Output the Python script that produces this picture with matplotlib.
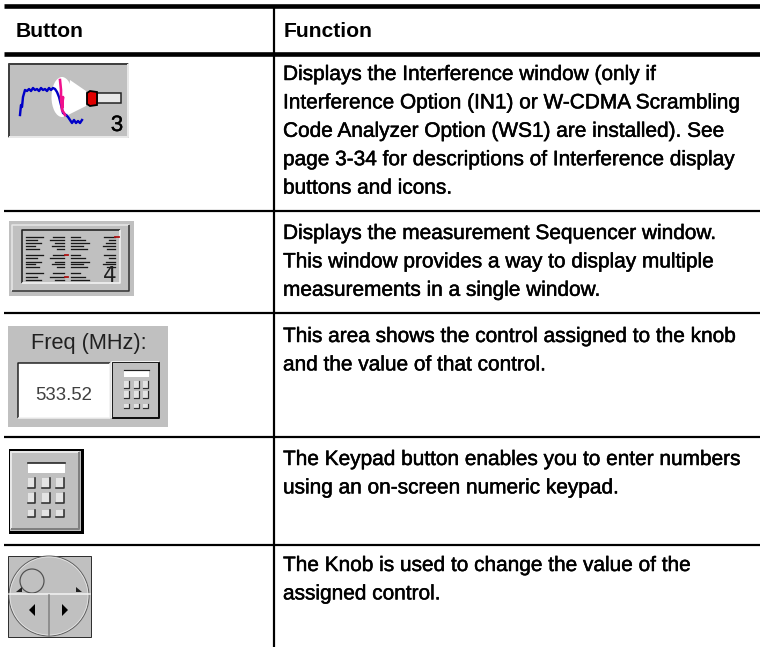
"""
Button / Function table with the small toolbar icons.
"""

import matplotlib
matplotlib.use("Agg")
import matplotlib.pyplot as plt
import matplotlib.patheffects as pe
from matplotlib.patches import Rectangle, Ellipse, Circle, Polygon

HEADERS = ["Button", "Function"]
ROW_TEXT = [
    ["Displays the Interference window (only if",
     "Interference Option (IN1) or W-CDMA Scrambling",
     "Code Analyzer Option (WS1) are installed). See",
     "page 3-34 for descriptions of Interference display",
     "buttons and icons."],
    ["Displays the measurement Sequencer window.",
     "This window provides a way to display multiple",
     "measurements in a single window."],
    ["This area shows the control assigned to the knob",
     "and the value of that control."],
    ["The Keypad button enables you to enter numbers",
     "using an on-screen numeric keypad."],
    ["The Knob is used to change the value of the",
     "assigned control."],
]
FREQ_LABEL = "Freq (MHz):"
FREQ_VALUE = "533.52"

# first baseline of each row, pixels
ROW_BASELINE = [80, 239, 342, 465, 571]
ROW_PITCH = 28.4
ROW_RULES = [211, 313, 437, 545]

TRACE_X = [20, 21, 22, 23, 25, 27, 29, 31, 33, 35, 37, 39, 41, 43, 45, 47, 49, 51, 53, 55,
           57, 59, 61, 63, 66, 68, 70, 72, 74, 76, 78, 80, 82]
TRACE_Y = [115, 105, 107, 97, 90, 91, 89, 91, 88, 90, 89, 91, 88, 90, 89, 91, 88, 90, 88, 89,
           92, 97, 105, 113, 115, 117, 120, 123, 120, 123, 121, 123, 120]
PINK_X = [60, 61, 61, 62, 63, 62, 64, 65]
PINK_Y = [80, 90, 100, 108, 97, 110, 113, 115]

SEQ_COLS = [(26, 43), (50, 64), (71, 89), (103, 115)]
SEQ_ROWS = [237, 240, 243, 246, 249, 255, 258, 262, 264, 267, 273, 277, 280]

GREY = "#c0c0c0"


def px(width):
    """Line width in points from a width in pixels."""
    return width * 72 / 100


def bevel(ax, x0, y0, x1, y1, tl, br, lw=1.5):
    """Two-tone border round a box."""
    ax.plot([x0, x0, x1], [y1, y0, y0], color=tl, lw=px(lw), solid_capstyle="butt")
    ax.plot([x0, x1, x1], [y1, y1, y0], color=br, lw=px(lw), solid_capstyle="butt")


def drawKeypad(ax, x0, y0, w, h, lw):
    """The calculator glyph, scaled to a box."""
    ax.add_patch(Rectangle((x0, y0), w, h * 0.17, fc="white", ec="none"))
    ax.plot([x0, x0 + w], [y0, y0], color="#202020", lw=px(lw))
    for row, (top, height) in enumerate([(0.27, 0.18), (0.53, 0.18), (0.84, 0.12)]):
        for col in [0.0, 0.39, 0.77]:
            kx = x0 + col * w
            ky = y0 + top * h
            ax.add_patch(Rectangle((kx, ky), w * 0.2, height * h, fc="#e4e4e4", ec="none"))
            ax.plot([kx + w * 0.2, kx + w * 0.2, kx],
                    [ky, ky + height * h, ky + height * h],
                    color="#303030", lw=px(lw))


def drawInterference(ax):
    ax.add_patch(Rectangle((8, 63), 121, 75, fc=GREY, ec="none"))
    bevel(ax, 9, 64, 128, 137, "#404040", "#e8e8e8", 2)
    ax.add_patch(Polygon([(70, 80), (86, 91), (86, 106), (68, 115)], fc="white", ec="none"))
    ax.add_patch(Ellipse((62, 97), 21, 40, fc="white", ec="none"))
    ax.plot(TRACE_X, TRACE_Y, color="#0000c8", lw=px(2.4))
    ax.plot(PINK_X, PINK_Y, color="#f0108c", lw=px(2.6))
    ax.add_patch(Circle((107, 92), 3.5, fc="#c00000", ec="none", zorder=0.9))
    ax.add_patch(Rectangle((97, 93), 24, 10, fc="#e8e8e8", ec="#202020", lw=px(1.5)))
    ax.add_patch(Polygon([(87, 93), (90, 91), (97, 92), (97, 105), (90, 106), (87, 104)],
                         fc="#e00000", ec="black", lw=px(1.8)))
    ax.text(117, 131, "3", fontsize=16, family="Liberation Sans", ha="center", va="baseline",
            path_effects=[pe.withStroke(linewidth=0.25, foreground="black")])


def drawSequencer(ax):
    ax.add_patch(Rectangle((9, 221), 125, 75, fc=GREY, ec="none"))
    bevel(ax, 12, 225, 129, 291, "#e8e8e8", "#303030", 1.5)
    bevel(ax, 22, 230, 120, 283, "#202020", "#f4f4f4", 1.6)
    for col, (x0, x1) in enumerate(SEQ_COLS):
        for row, y in enumerate(SEQ_ROWS):
            # rows get shorter in a repeating pattern, as justified text does
            shorten = (row * 3 + col * 2) % 5 * 0.12 * (x1 - x0)
            if col == 3 and y >= 273:
                continue
            if col in (1, 3):
                ax.plot([x0 + shorten, x1], [y, y], color="#181818", lw=px(1.3))
            else:
                ax.plot([x0, x1 - shorten], [y, y], color="#181818", lw=px(1.3))
    for x0, x1, y in [(115, 119, 237), (65, 68, 255), (65, 68, 277)]:
        ax.plot([x0, x1], [y, y], color="#b01010", lw=px(1.8))
    ax.text(110, 282, "4", fontsize=15.5, family="DejaVu Sans", ha="center",
            va="baseline", color="#202020")


def drawFreq(ax):
    ax.add_patch(Rectangle((8, 326), 160, 101, fc=GREY, ec="none"))
    ax.text(89, 349, FREQ_LABEL, fontsize=15.7, family="Liberation Sans", ha="center",
            va="baseline", color="#202020")
    ax.add_patch(Rectangle((18, 363), 92, 55, fc="white", ec="none"))
    bevel(ax, 18, 363, 110, 418, "#202020", "#f0f0f0", 1.5)
    ax.text(64, 400, FREQ_VALUE, fontsize=13.4, family="Liberation Sans", ha="center",
            va="baseline", color="#404040")
    bevel(ax, 112, 362, 159, 418, "#f0f0f0", "#101010", 2)
    ax.plot([112, 112, 159], [418, 362, 362], color="#202020", lw=px(1))
    drawKeypad(ax, 124, 370, 25, 40, 1.2)


def drawKeypadButton(ax):
    ax.add_patch(Rectangle((9, 449), 75, 85, fc="black", ec="none"))
    ax.add_patch(Rectangle((10, 451), 71, 80, fc=GREY, ec="none"))
    bevel(ax, 11, 452, 79, 529, "#e8e8e8", "#808080", 2)
    drawKeypad(ax, 28, 463, 37, 56, 1.6)


def drawKnob(ax):
    ax.add_patch(Rectangle((8, 556), 83, 81, fc=GREY, ec="#303030", lw=px(1)))
    ax.add_patch(Circle((49, 596), 40, fc=GREY, ec="#606060", lw=px(1)))
    ax.add_patch(Circle((49, 596), 39, fc="none", ec="#e8e8e8", lw=px(0.7)))
    ax.add_patch(Circle((32, 581), 12, fc=GREY, ec="#505050", lw=px(1.2)))
    ax.plot([9, 90], [594, 594], color="#f4f4f4", lw=px(1.5))
    ax.plot([49, 49], [595, 636], color="#808080", lw=px(1.5))
    ax.add_patch(Polygon([(29, 610), (35, 604), (35, 616)], fc="black", ec="none"))
    ax.add_patch(Polygon([(62, 604), (62, 616), (68, 610)], fc="black", ec="none"))
    ax.add_patch(Polygon([(16, 592), (22, 587), (22, 592)], fc="#202020", ec="none"))
    ax.add_patch(Polygon([(76, 587), (82, 592), (76, 592)], fc="#202020", ec="none"))


def main():
    fig = plt.figure(figsize=(7.6, 6.47), dpi=100)
    ax = fig.add_axes([0, 0, 1, 1])
    ax.set_xlim(0, 760)
    ax.set_ylim(647, 0)
    ax.axis("off")

    """Table rules."""
    ax.plot([4, 760], [5.5, 5.5], color="black", lw=px(4.6), solid_capstyle="butt")
    ax.plot([4, 760], [53.5, 53.5], color="black", lw=px(4.6), solid_capstyle="butt")
    for y in ROW_RULES:
        ax.plot([4, 760], [y, y], color="black", lw=px(2.2), solid_capstyle="butt")
    ax.plot([273.5, 273.5], [5, 647], color="black", lw=px(2.2), solid_capstyle="butt")

    """Header and body text."""
    thick = [pe.withStroke(linewidth=0.35, foreground="black")]
    for x, label in zip([16, 284], HEADERS):
        ax.text(x, 37, label, fontsize=15.2, fontweight="bold", family="Liberation Sans",
                va="baseline", color="black")
    for baseline, lines in zip(ROW_BASELINE, ROW_TEXT):
        for i, line in enumerate(lines):
            ax.text(283, baseline + i * ROW_PITCH, line, fontsize=15.0,
                    family="Liberation Sans", va="baseline", color="black",
                    path_effects=thick)

    drawInterference(ax)
    drawSequencer(ax)
    drawFreq(ax)
    drawKeypadButton(ax)
    drawKnob(ax)

    fig.savefig("out.png", dpi=100)


if __name__ == "__main__":
    main()
